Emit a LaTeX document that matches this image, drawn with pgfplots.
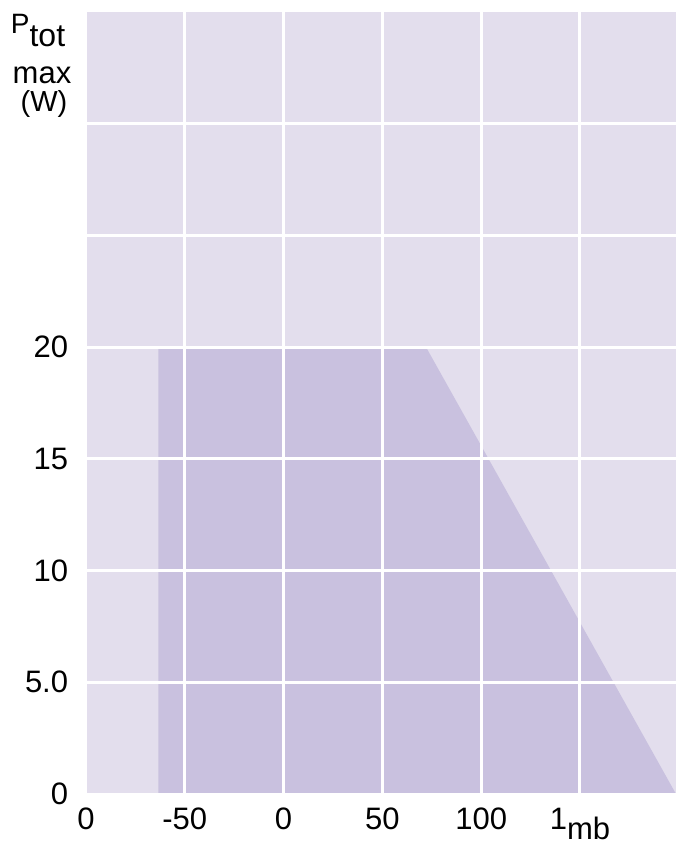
\documentclass[border=0pt]{standalone}
\usepackage{pgfplots}
\pgfplotsset{compat=1.18}
\usepackage{fontspec}
\setmainfont{Liberation Sans}
\definecolor{bgc}{RGB}{227,222,237}
\definecolor{polyc}{RGB}{201,193,223}
\begin{document}
\begin{tikzpicture}
\useasboundingbox (0,0) rectangle (338pt,-421.5pt);
\begin{axis}[
  at={(43pt,-6pt)}, anchor=north west,
  scale only axis, width=295pt, height=391pt,
  xmin=-100, xmax=198.6, ymin=0, ymax=35,
  xtick={-100,-50,0,50,100,150},
  xticklabels={0,-50,0,50,100,{1\raisebox{-5pt}{mb}}},
  ytick={0,5,10,15,20,25,30},
  yticklabels={0,5.0,10,15,20,{},{}},
  major tick length=0pt,
  axis line style={draw=none},
  grid=major,
  major grid style={white, line width=1.5pt},
  axis background/.style={fill=bgc},
  axis on top,
  ticklabel style={font=\fontsize{15.5}{18}\selectfont},
  xticklabel style={anchor=base, inner sep=0pt, yshift=-17.5pt},
  yticklabel style={anchor=east, inner sep=0pt, xshift=-8.75pt},
]
\addplot[fill=polyc, draw=none] coordinates {(-63.4,0) (-63.4,20) (72.1,20) (198.6,0)} -- cycle;
\end{axis}
\node[anchor=base west, inner sep=0pt, font=\fontsize{14}{16}\selectfont] at (5.25pt,-16.65pt) {P\raisebox{-6.7pt}{\fontsize{16}{18}\selectfont tot}};
\node[anchor=base, inner sep=0pt, font=\fontsize{15.5}{18}\selectfont] at (21pt,-41.5pt) {max};
\node[anchor=base, inner sep=0pt, font=\fontsize{14.5}{17}\selectfont] at (22pt,-55.75pt) {(W)};
\end{tikzpicture}
\end{document}
